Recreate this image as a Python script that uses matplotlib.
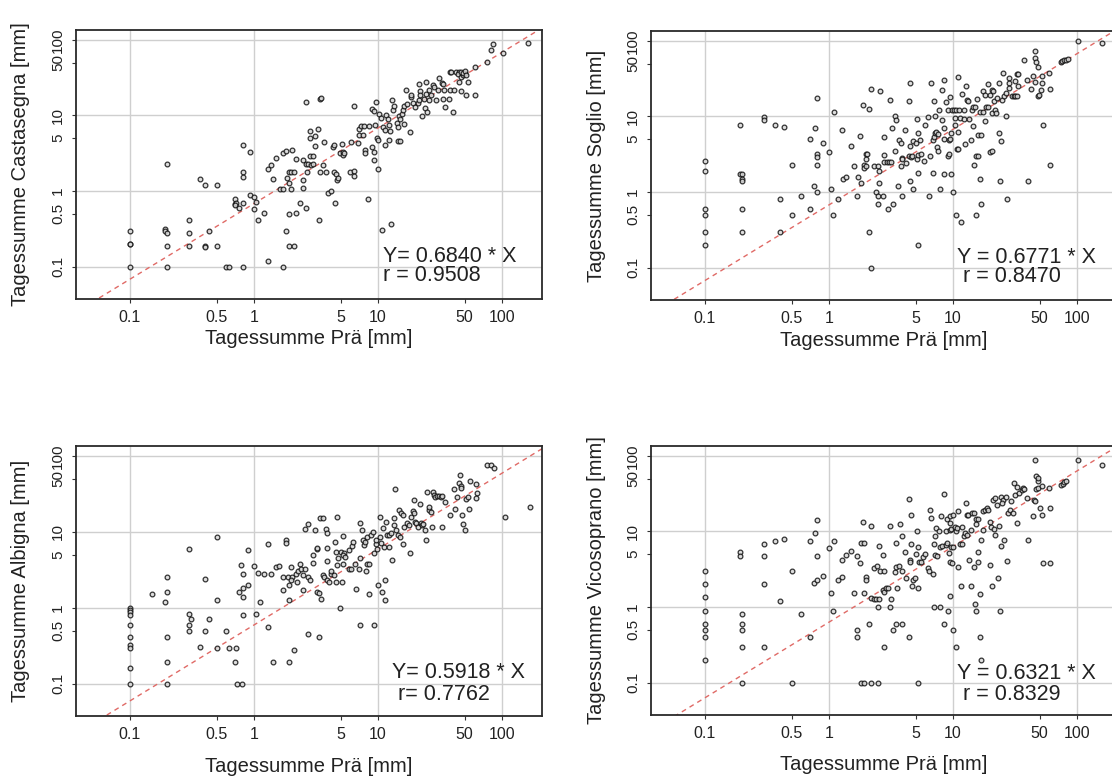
import numpy as np
import matplotlib
matplotlib.use("Agg")
import matplotlib.pyplot as plt

plt.rcParams['font.family'] = ['Liberation Sans', 'DejaVu Sans']

# (Tagessumme Prä, Tagessumme Station) pairs
castasegna = [
    (0.1, 0.3), (0.1, 0.2), (0.1, 0.2), (0.1, 0.1),
    (0.2, 2.3), (0.19, 0.32), (0.19, 0.3), (0.2, 0.28), (0.2, 0.19), (0.2, 0.1),
    (0.3, 0.41), (0.3, 0.28), (0.3, 0.19), (0.37, 1.45), (0.4, 1.2), (0.4, 0.19), (0.4, 0.18), (0.43, 0.3),
    (0.5, 1.2), (0.5, 0.19), (0.6, 0.1), (0.63, 0.1),
    (0.7, 0.78), (0.7, 0.67), (0.72, 0.7), (0.7, 0.65), (0.76, 0.59), (0.81, 4.1), (0.81, 1.8), (0.81, 1.55),
    (0.81, 0.69), (0.81, 0.1), (0.92, 3.3), (0.92, 0.9), (1.0, 0.83), (1.03, 0.72), (1.0, 0.58), (1.08, 0.41),
    (1.21, 0.52), (1.3, 0.12), (1.3, 1.93), (1.37, 2.2), (1.41, 1.43), (1.51, 2.7), (1.62, 1.08), (1.7, 1.08),
    (1.72, 0.1), (1.72, 3.2), (1.82, 3.4), (1.82, 0.3), (1.92, 0.19), (1.92, 0.5),
    (1.85, 1.5), (1.92, 1.8), (2.0, 1.8), (2.1, 1.8), (1.92, 1.26), (2.0, 1.08), (2.03, 3.5), (2.1, 0.19),
    (2.2, 0.51), (2.2, 2.64), (2.34, 0.69), (2.5, 1.4), (2.5, 1.1), (2.62, 15.3), (2.62, 0.6),
    (2.5, 2.6), (2.62, 2.3), (2.75, 2.25), (2.9, 2.2), (2.67, 1.8), (2.81, 6.2), (2.81, 5.1), (2.81, 2.9),
    (3.0, 2.9), (3.0, 2.3), (3.13, 5.3), (3.13, 3.9), (3.26, 6.7), (3.35, 0.41), (3.4, 16.3), (3.5, 17.1),
    (3.4, 1.78), (3.6, 2.2), (3.7, 4.5), (3.84, 1.78), (3.97, 0.95), (4.15, 1.0), (4.3, 3.85), (4.45, 4.1),
    (4.45, 1.78), (4.6, 1.7), (4.5, 0.69), (4.7, 1.4), (4.8, 1.5), (4.9, 3.2), (5.1, 4.2), (5.2, 3.3),
    (5.25, 3.0), (5.3, 3.15), (5.9, 1.78), (6.4, 1.86), (6.4, 1.6), (6.4, 13.3), (6.1, 4.5), (6.85, 4.3),
    (7.0, 6.7), (7.0, 5.5), (7.3, 7.2), (7.6, 5.5), (7.7, 7.3), (7.8, 3.45), (7.9, 3.15), (8.25, 0.78),
    (8.5, 7.3), (8.9, 12.2), (9.2, 11.4), (8.9, 3.85), (9.2, 3.3), (9.2, 2.6), (9.5, 7.4), (9.8, 5.1),
    (10.0, 4.7), (9.7, 15.2), (10.0, 1.93), (10.2, 10.6), (10.6, 9.4), (10.8, 0.31), (11.0, 7.1), (11.3, 6.4),
    (11.3, 4.1), (11.7, 10.1), (12.0, 9.1), (12.3, 7.5), (12.3, 4.8), (12.5, 6.2), (12.7, 0.37), (13.0, 16.0),
    (13.3, 11.8), (13.5, 13.3), (14.2, 8.0), (14.6, 7.1), (14.8, 9.8), (14.9, 8.9), (14.5, 4.6), (15.1, 4.6),
    (15.7, 10.6), (16.0, 11.8), (16.2, 7.8), (16.2, 13.3), (16.8, 21.6), (17.1, 14.1), (18.0, 6.1), (18.3, 17.7),
    (18.6, 18.5), (19.1, 14.6), (20.0, 13.0), (20.9, 14.4), (21.3, 16.0), (21.5, 26.4), (22.0, 21.2),
    (21.8, 18.6), (22.6, 9.8), (23.4, 16.6), (24.2, 19.5), (24.0, 12.4), (25.0, 11.2), (25.8, 16.0),
    (26.6, 18.5), (26.0, 21.6), (24.2, 27.5), (28.0, 25.0), (28.3, 23.5), (29.5, 16.0), (30.5, 22.0),
    (31.0, 31.7), (32.5, 26.9), (33.5, 26.4), (34.0, 21.6), (33.5, 16.3), (35.0, 12.8), (37.5, 16.6),
    (38.0, 21.6), (38.0, 37.9), (39.0, 38.0), (42.5, 38.0), (45.0, 38.0), (40.5, 11.2), (41.0, 21.6),
    (44.0, 35.0), (47.0, 32.0), (48.5, 34.0), (50.0, 36.0), (47.0, 38.0), (45.0, 27.5), (48.0, 37.0),
    (50.0, 39.0), (51.5, 34.0), (53.5, 27.5), (47.0, 21.0), (51.0, 18.5), (61.0, 44.0), (61.0, 18.5),
    (75.0, 51.5), (81.0, 73.0), (85.0, 88.0), (101.0, 68.0), (163.0, 90.0),
]

soglio = [
    (0.1, 2.6), (0.1, 1.9), (0.1, 0.6), (0.1, 0.5), (0.1, 0.3), (0.1, 0.2),
    (0.19, 7.8), (0.19, 1.73), (0.2, 1.73), (0.2, 1.48), (0.2, 1.41), (0.2, 0.6), (0.2, 0.3),
    (0.3, 9.8), (0.3, 9.0), (0.37, 7.8), (0.4, 0.81), (0.4, 0.3), (0.43, 7.2), (0.5, 2.3), (0.5, 0.5),
    (0.6, 0.9), (0.7, 5.0), (0.7, 0.6), (0.75, 1.2), (0.77, 7.1), (0.8, 17.5), (0.8, 3.2), (0.8, 2.9),
    (0.8, 2.3), (0.8, 1.0), (0.9, 4.4), (1.0, 3.4), (1.03, 1.1), (1.07, 0.5), (1.1, 11.4), (1.19, 0.81),
    (1.28, 6.7), (1.3, 1.5), (1.37, 1.6), (1.5, 4.1), (1.58, 2.2), (1.69, 0.9), (1.7, 1.6), (1.78, 5.55),
    (1.8, 1.3), (1.87, 14.1), (1.9, 2.3), (1.92, 2.1), (2.0, 3.2), (2.02, 3.2), (2.0, 2.7), (2.0, 2.2),
    (2.09, 12.5), (2.09, 0.3), (2.2, 23.0), (2.2, 0.1), (2.3, 2.2), (2.5, 2.2), (2.4, 1.0), (2.5, 0.9),
    (2.5, 0.7), (2.55, 1.3), (2.55, 1.9), (2.6, 21.8), (2.7, 0.9), (2.8, 2.5), (2.95, 2.5), (3.05, 2.5),
    (3.15, 2.5), (2.8, 3.1), (2.8, 5.3), (3.0, 0.6), (3.1, 16.6), (3.2, 7.0), (3.3, 0.7), (3.4, 10.0),
    (3.5, 9.0), (3.4, 3.45), (3.6, 1.2), (3.7, 4.9), (3.8, 4.4), (3.85, 2.8), (3.85, 2.7), (3.8, 2.2),
    (3.9, 0.9), (4.1, 6.65), (4.2, 2.4), (4.4, 3.0), (4.6, 2.95), (4.7, 3.0), (4.45, 15.8), (4.5, 4.1),
    (4.5, 27.5), (4.5, 1.41), (4.75, 1.1), (4.8, 4.7), (5.0, 4.4), (5.1, 9.2), (5.1, 2.7), (5.2, 3.1),
    (5.2, 6.1), (5.25, 1.8), (5.2, 0.2), (5.45, 4.9), (5.5, 3.2), (5.8, 2.6), (5.9, 7.8), (6.3, 9.7),
    (6.5, 3.0), (6.4, 0.9), (6.7, 28.0), (6.9, 1.8), (6.9, 4.9), (7.0, 5.3), (7.1, 6.0), (7.0, 15.8),
    (7.2, 10.0), (7.3, 6.3), (7.5, 5.8), (7.4, 4.0), (7.6, 3.45), (7.7, 12.2), (7.8, 1.1), (8.1, 22.5),
    (8.2, 9.0), (8.4, 30.5), (8.4, 7.0), (8.4, 5.0), (8.5, 1.73), (8.8, 15.5), (9.1, 12.3), (9.1, 3.0),
    (9.3, 3.2), (9.3, 4.9), (9.5, 5.0), (9.7, 1.73), (9.5, 17.9), (9.7, 6.0), (9.9, 12.2), (10.2, 12.0),
    (10.5, 12.0), (10.0, 1.0), (10.4, 7.8), (10.4, 9.5), (10.6, 0.5), (10.7, 3.7), (11.0, 3.7), (10.9, 32.8),
    (11.0, 6.3), (11.2, 12.3), (11.4, 9.5), (11.7, 0.4), (11.8, 20.0), (12.2, 12.3), (12.2, 9.3), (12.6, 4.35),
    (12.8, 25.0), (13.0, 16.5), (13.2, 15.8), (13.4, 9.3), (14.0, 4.9), (14.1, 12.3), (14.6, 13.5),
    (15.0, 13.5), (14.6, 7.5), (14.8, 2.3), (15.3, 3.0), (15.8, 3.0), (15.3, 0.5), (15.5, 16.9), (15.8, 5.7),
    (16.9, 5.7), (16.4, 11.4), (17.5, 11.4), (16.6, 1.5), (16.9, 0.7), (17.5, 21.5), (18.1, 19.4),
    (18.1, 8.6), (18.3, 13.5), (19.3, 13.5), (19.1, 26.7), (20.0, 19.4), (20.7, 22.5), (21.0, 21.4),
    (20.0, 3.4), (20.7, 3.45), (20.7, 11.0), (21.3, 15.8), (22.0, 12.3), (22.3, 11.0), (22.8, 17.4),
    (23.5, 6.0), (24.3, 4.7), (23.5, 28.0), (23.8, 1.41), (24.6, 16.6), (25.4, 38.0), (25.9, 18.5),
    (26.9, 20.4), (26.9, 10.0), (27.3, 0.81), (28.2, 32.0), (28.4, 28.0), (28.2, 23.7), (30.0, 18.6),
    (31.0, 18.8), (31.7, 18.6), (32.6, 18.8), (31.7, 29.8), (32.6, 36.2), (33.2, 36.0), (33.7, 25.4),
    (37.3, 55.0), (39.8, 30.5), (40.3, 1.41), (42.5, 23.0), (44.0, 34.4), (45.5, 29.0), (45.5, 74.0),
    (46.0, 58.6), (47.0, 53.0), (48.0, 45.0), (48.0, 18.8), (49.5, 19.4), (51.0, 22.5), (52.0, 34.3),
    (52.5, 27.5), (53.5, 7.8), (59.0, 38.0), (60.0, 23.0), (60.0, 2.3), (74.0, 53.0), (76.0, 54.0),
    (78.0, 55.0), (81.0, 56.0), (84.0, 57.0), (101.0, 100.0), (158.0, 95.0),
]

albigna = [
    (0.1, 1.0), (0.1, 0.94), (0.1, 0.88), (0.1, 0.79), (0.1, 0.6), (0.1, 0.41), (0.1, 0.32), (0.1, 0.29),
    (0.1, 0.16), (0.1, 0.1),
    (0.15, 1.53), (0.19, 1.18), (0.2, 2.54), (0.2, 1.61), (0.2, 0.41), (0.2, 0.19), (0.2, 0.1),
    (0.3, 5.85), (0.3, 0.83), (0.31, 0.7), (0.3, 0.6), (0.3, 0.5), (0.37, 0.3), (0.4, 2.4), (0.4, 0.5),
    (0.43, 0.7), (0.5, 8.6), (0.5, 1.28), (0.5, 0.29), (0.6, 0.5), (0.63, 0.29), (0.71, 0.29), (0.7, 0.19),
    (0.73, 0.1), (0.8, 0.1), (0.76, 1.6), (0.78, 3.66), (0.81, 2.8), (0.81, 1.8), (0.81, 1.4), (0.81, 0.79),
    (0.9, 5.7), (0.9, 2.0), (1.0, 3.5), (1.03, 0.82), (1.08, 2.9), (1.11, 1.19), (1.2, 2.76), (1.3, 6.9),
    (1.3, 0.55), (1.37, 2.76), (1.41, 0.19), (1.5, 3.45), (1.6, 3.5), (1.7, 1.73), (1.7, 2.54), (1.8, 7.7),
    (1.8, 7.2), (1.88, 2.54), (1.9, 1.97), (1.93, 0.19), (1.93, 1.28), (2.0, 3.45), (2.02, 2.54), (2.0, 2.3),
    (2.12, 0.28), (2.2, 2.8), (2.25, 3.05), (2.22, 2.2), (2.36, 3.8), (2.4, 3.28), (2.5, 2.73), (2.6, 3.28),
    (2.5, 1.7), (2.6, 11.0), (2.75, 12.5), (2.7, 0.45), (2.75, 2.54), (2.85, 2.3), (3.0, 5.0), (3.0, 3.9),
    (3.1, 10.6), (3.2, 6.0), (3.25, 6.1), (3.25, 1.6), (3.35, 1.56), (3.35, 0.41), (3.4, 15.0), (3.6, 15.0),
    (3.45, 1.29), (3.6, 2.7), (3.7, 2.54), (3.85, 2.3), (4.0, 2.2), (3.8, 11.0), (3.9, 9.5), (3.85, 6.2),
    (3.85, 4.1), (4.2, 2.8), (4.4, 2.7), (4.6, 2.2), (4.2, 3.05), (4.5, 7.4), (4.6, 5.4), (4.7, 15.8),
    (4.7, 3.7), (4.8, 4.45), (4.9, 1.0), (5.1, 2.2), (5.2, 8.9), (5.0, 5.4), (5.3, 5.2), (5.2, 4.9),
    (5.4, 4.7), (5.25, 3.8), (5.8, 3.28), (6.0, 3.28), (5.8, 5.7), (6.2, 6.5), (6.3, 7.4), (6.5, 3.8),
    (6.7, 1.78), (7.0, 3.28), (7.1, 4.45), (7.1, 13.1), (7.1, 0.6), (7.4, 10.6), (7.5, 7.8), (7.7, 6.6),
    (7.8, 7.4), (7.95, 3.05), (8.2, 3.8), (8.5, 3.8), (8.5, 1.5), (8.2, 8.6), (8.7, 9.0), (9.1, 10.0),
    (9.3, 5.2), (9.3, 0.6), (9.6, 7.0), (9.7, 7.8), (9.8, 6.0), (10.0, 2.0), (10.3, 15.5), (10.3, 8.6),
    (10.6, 7.1), (10.8, 1.6), (11.0, 11.3), (11.1, 6.3), (11.4, 2.3), (11.4, 1.28), (11.7, 13.5), (11.9, 9.0),
    (12.3, 9.0), (12.7, 9.5), (12.3, 6.3), (12.9, 4.2), (13.4, 15.0), (13.4, 12.3), (13.6, 36.7), (14.0, 10.7),
    (14.5, 9.0), (15.0, 8.6), (14.8, 19.4), (15.4, 17.5), (16.0, 16.6), (15.8, 6.9), (16.2, 11.7),
    (17.1, 12.9), (17.7, 12.3), (18.3, 15.7), (18.0, 5.3), (19.0, 18.8), (19.6, 17.5), (19.6, 26.2),
    (19.8, 13.5), (20.3, 12.9), (21.0, 11.4), (21.6, 23.3), (22.3, 13.1), (22.7, 12.3), (23.0, 12.7),
    (24.0, 10.4), (24.4, 7.9), (24.7, 33.8), (25.6, 19.4), (26.5, 18.5), (26.0, 21.4), (27.2, 11.6),
    (27.8, 33.8), (28.2, 30.6), (29.0, 29.0), (30.0, 29.5), (31.0, 30.0), (32.0, 29.0), (33.0, 29.5),
    (33.0, 11.6), (34.4, 25.0), (38.1, 16.6), (40.7, 36.3), (41.5, 20.0), (43.6, 29.0), (45.0, 43.7),
    (46.0, 56.0), (46.5, 40.0), (47.0, 38.0), (47.4, 16.6), (48.0, 12.7), (49.9, 10.4), (51.5, 27.0),
    (53.0, 29.0), (54.2, 20.0), (55.0, 47.0), (62.0, 42.5), (63.0, 32.0), (62.0, 27.5), (76.0, 77.0),
    (81.0, 77.0), (86.0, 70.0), (105.0, 15.5), (167.0, 21.0),
]

vicosoprano = [
    (0.1, 3.0), (0.1, 2.0), (0.1, 1.38), (0.1, 0.9), (0.1, 0.6), (0.1, 0.5), (0.1, 0.4), (0.1, 0.2),
    (0.19, 5.3), (0.19, 4.7), (0.2, 0.81), (0.2, 0.6), (0.2, 0.5), (0.2, 0.3), (0.2, 0.1),
    (0.3, 6.9), (0.3, 4.8), (0.3, 2.0), (0.3, 0.3), (0.37, 7.4), (0.4, 1.21), (0.43, 7.9), (0.5, 3.0),
    (0.5, 0.1), (0.6, 0.81), (0.7, 7.4), (0.7, 0.4), (0.75, 2.1), (0.77, 9.5), (0.8, 14.2), (0.8, 4.7),
    (0.8, 2.3), (0.9, 2.6), (1.0, 6.1), (1.03, 1.53), (1.07, 0.9), (1.1, 7.4), (1.19, 2.3), (1.28, 2.5),
    (1.28, 4.2), (1.37, 4.9), (1.5, 5.6), (1.58, 1.53), (1.69, 4.7), (1.69, 0.5), (1.69, 0.4), (1.78, 3.8),
    (1.8, 7.0), (1.9, 7.0), (1.8, 0.1), (1.9, 0.1), (1.88, 13.3), (1.9, 1.53), (2.0, 2.5), (2.0, 2.3),
    (2.09, 0.6), (2.2, 11.7), (2.2, 1.3), (2.3, 1.27), (2.4, 1.27), (2.55, 1.27), (2.2, 0.1), (2.5, 0.1),
    (2.3, 3.3), (2.45, 3.45), (2.5, 1.0), (2.55, 6.5), (2.6, 2.96), (2.7, 4.9), (2.7, 1.7), (2.8, 1.6),
    (2.9, 1.8), (3.0, 1.8), (2.8, 0.3), (2.8, 2.96), (3.1, 11.7), (3.1, 1.0), (3.15, 1.29), (3.3, 0.5),
    (3.4, 2.87), (3.5, 3.4), (3.45, 0.6), (3.55, 1.8), (3.5, 7.1), (3.7, 3.45), (3.85, 3.0), (3.77, 12.6),
    (3.85, 0.6), (3.9, 8.6), (4.1, 5.3), (4.2, 2.4), (4.4, 0.4), (4.45, 27.0), (4.5, 4.2), (4.5, 4.0),
    (4.55, 16.6), (4.6, 6.85), (4.7, 1.88), (4.8, 2.3), (4.9, 2.4), (5.0, 5.0), (5.1, 10.0), (5.2, 6.2),
    (5.25, 1.78), (5.2, 0.1), (5.35, 3.9), (5.5, 4.0), (5.7, 4.6), (5.9, 5.1), (6.3, 3.3), (6.4, 3.0),
    (6.5, 19.4), (6.65, 15.0), (6.9, 2.7), (7.0, 6.9), (7.1, 8.8), (7.0, 1.0), (7.2, 4.9), (7.4, 4.7),
    (7.3, 11.0), (7.7, 10.0), (7.9, 6.3), (8.1, 6.5), (7.8, 1.0), (8.0, 16.0), (8.4, 31.0), (8.4, 0.6),
    (8.7, 10.0), (8.8, 6.6), (9.0, 7.1), (8.9, 14.7), (9.4, 15.8), (9.1, 0.9), (9.3, 5.2), (9.4, 10.6),
    (9.5, 12.9), (9.7, 10.8), (9.5, 3.9), (9.9, 3.8), (9.5, 1.41), (9.7, 6.3), (10.0, 6.3), (10.0, 16.6),
    (10.0, 0.5), (10.4, 11.4), (10.6, 10.3), (10.6, 0.3), (10.7, 11.0), (11.0, 3.35), (11.0, 18.4),
    (11.4, 6.9), (11.8, 6.9), (11.7, 1.9), (11.8, 11.3), (12.2, 8.6), (12.6, 9.5), (12.9, 16.6), (13.2, 16.6),
    (12.7, 23.6), (13.0, 9.1), (13.4, 4.2), (13.9, 1.9), (14.0, 10.5), (14.3, 17.5), (14.8, 17.8),
    (14.8, 3.35), (15.0, 1.1), (15.3, 0.9), (15.3, 14.6), (15.8, 14.6), (15.3, 12.6), (15.8, 5.4),
    (15.8, 4.0), (16.4, 0.4), (16.6, 1.5), (16.9, 0.2), (16.7, 7.8), (17.3, 18.4), (18.0, 19.4), (18.7, 20.4),
    (17.5, 10.5), (19.3, 19.4), (20.0, 3.6), (20.0, 13.5), (20.4, 11.3), (21.3, 10.7), (20.7, 1.9),
    (21.0, 26.0), (21.7, 27.5), (22.0, 9.1), (22.8, 22.5), (23.5, 11.7), (23.2, 2.4), (23.8, 0.9),
    (24.3, 29.0), (25.4, 25.7), (24.3, 6.5), (25.0, 23.6), (25.9, 7.6), (26.9, 29.0), (27.2, 4.1),
    (27.6, 17.5), (28.6, 19.4), (29.2, 25.0), (30.6, 17.5), (31.7, 30.6), (31.0, 44.0), (32.6, 39.0),
    (32.6, 12.8), (33.8, 32.0), (36.0, 35.0), (37.0, 38.0), (37.3, 37.0), (39.8, 27.5), (40.3, 7.8),
    (44.0, 15.8), (44.7, 26.0), (46.0, 25.0), (45.5, 88.0), (47.0, 54.5), (48.0, 46.0), (48.5, 51.0),
    (47.0, 36.7), (48.5, 37.5), (50.5, 20.4), (51.9, 16.6), (51.9, 40.0), (53.5, 3.8), (61.0, 3.8),
    (59.0, 37.5), (60.0, 20.4), (74.0, 41.0), (77.0, 43.0), (79.0, 45.0), (82.0, 47.0), (101.0, 88.0),
    (160.0, 76.0),
]

stations = ['Castasegna', 'Soglio', 'Albigna', 'Vicosoprano']
slopes = [0.6840, 0.6771, 0.5918, 0.6321]
fit_text = ['Y= 0.6840 * X\nr = 0.9508',
            'Y = 0.6771 * X\n r = 0.8470',
            'Y= 0.5918 * X\n r= 0.7762',
            'Y = 0.6321 * X\n r = 0.8329']

tick_vals = [0.1, 0.5, 1, 5, 10, 50, 100]
tick_labels = ['0.1', '0.5', '1', '5', '10', '50', '100']
grid_vals = [0.1, 1, 10, 100]

W, H = 1112, 780
fig = plt.figure(figsize=(W / 100, H / 100), dpi=100)

# axes boxes in pixels: left, top, width, height
boxes = [(76, 30, 466, 269), (651, 31, 466, 269), (76, 446, 466, 270), (651, 446, 466, 269)]
# fit text anchor (axes fraction, left / vertical centre)
txt_pos = [(0.659, 0.123), (0.657, 0.124), (0.678, 0.119), (0.657, 0.115)]
txt_spacing = [0.92, 0.88, 1.05, 1.05]
xlabel_off = [40, 40, 50, 50]

data = [castasegna, soglio, albigna, vicosoprano]

for i, pts in enumerate(data):
    l, t, w, h = boxes[i]
    ax = fig.add_axes([l / W, 1 - (t + h) / H, w / W, h / H])
    ax.set_xscale('log')
    ax.set_yscale('log')
    ax.set_xlim(0.0367, 210)
    ax.set_ylim(0.0374, 135)

    for g in grid_vals:
        ax.axvline(g, color='#cfcfcf', lw=1.0, zorder=0)
        ax.axhline(g, color='#cfcfcf', lw=1.0, zorder=0)

    pts = np.array(pts)
    ax.plot(pts[:, 0], pts[:, 1], 'o', ms=3.4, mfc='#d9d9d9', mec='#111111',
            mew=0.9, alpha=0.85, zorder=3)

    xl = np.array([0.0367, 210])
    ax.plot(xl, slopes[i] * xl, ls=(0, (3.5, 3)), color='#e06a66', lw=1.0, zorder=2)

    ax.set_xticks(tick_vals)
    ax.set_xticklabels(tick_labels)
    ax.set_yticks(tick_vals)
    ax.set_yticklabels(tick_labels, rotation=90, va='center')
    ax.minorticks_off()
    ax.tick_params(length=3, width=0.8, color='#333333',
                   labelcolor='#222222', pad=5)
    ax.tick_params(axis='x', labelsize=11.5)
    ax.tick_params(axis='y', labelsize=11)

    for s in ax.spines.values():
        s.set_color('#2a2a2a')
        s.set_linewidth(1.3)

    ax.set_xlabel('Tagessumme Prä [mm]', fontsize=14.5, color='#222222')
    ax.xaxis.set_label_coords(0.5, -xlabel_off[i] / h)
    ax.xaxis.label.set_va('center')
    ax.set_ylabel('Tagessumme ' + stations[i] + ' [mm]', fontsize=14.5, color='#222222')
    ax.yaxis.set_label_coords(-55 / w, 0.5)
    ax.yaxis.label.set_va('center')

    tx, ty = txt_pos[i]
    ax.text(tx, ty, fit_text[i], transform=ax.transAxes, fontsize=15.5,
            va='center', ha='left', color='#222222', linespacing=txt_spacing[i])

fig.savefig('out.png', dpi=100)
